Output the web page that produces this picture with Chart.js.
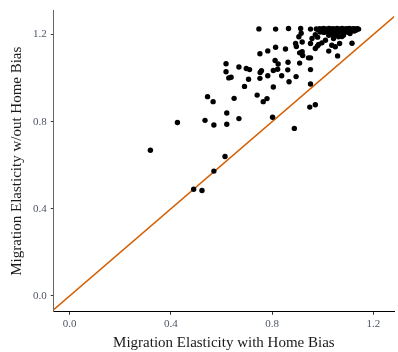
<!DOCTYPE html>
<html>
<head>
<meta charset="utf-8">
<script src="https://cdn.jsdelivr.net/npm/chart.js@4.4.0/dist/chart.umd.min.js"></script>
<style>
  html, body { margin: 0; padding: 0; background: #fff; }
  #wrap { width: 398px; height: 352px; }
</style>
</head>
<body>
<div id="wrap"><canvas id="chartOne"></canvas></div>
<script>
// scattered points: elasticity with home bias (x) vs without (y)
const withBias = [
    0.319, 0.426, 0.490, 0.523, 0.535, 0.545, 0.567, 0.570, 0.570, 0.614,
    0.621, 0.621, 0.618, 0.618, 0.629, 0.638, 0.650, 0.669, 0.669, 0.691,
    0.698, 0.711, 0.707, 0.741, 0.748, 0.752, 0.758, 0.753, 0.752, 0.765,
    0.780, 0.783, 0.783, 0.802, 0.805, 0.805, 0.814, 0.814, 0.812, 0.824,
    0.822, 0.838, 0.853, 0.865, 0.863, 0.862, 0.867, 0.888, 0.895, 0.893,
    0.896, 0.909, 0.909, 0.921, 0.906, 0.913, 0.919, 0.919, 0.944, 0.952,
    0.952, 0.952, 0.949, 0.971, 0.952, 0.958, 0.952, 0.971, 0.984, 0.997,
    1.011, 0.971, 0.980, 1.024, 1.036, 1.043, 1.024, 1.059, 1.050, 1.067,
    1.116, 1.043, 1.063, 1.082, 1.108, 1.056, 0.915, 0.979, 1.076
];
const withoutBias = [
    0.669, 0.796, 0.490, 0.484, 0.806, 0.915, 0.892, 0.785, 0.573, 0.640,
    0.840, 0.788, 1.066, 1.029, 1.001, 1.004, 0.907, 0.814, 1.051, 0.962,
    1.044, 1.039, 0.995, 0.922, 1.226, 1.112, 1.034, 1.026, 0.999, 0.892,
    0.906, 1.125, 1.011, 0.820, 0.959, 1.035, 1.225, 1.142, 1.081, 1.065,
    1.041, 1.011, 1.134, 1.228, 1.073, 1.038, 0.983, 0.769, 1.007, 1.159,
    1.145, 1.069, 1.116, 1.104, 1.190, 1.228, 1.166, 1.121, 1.093, 1.093,
    1.039, 0.973, 0.867, 0.878, 1.225, 1.182, 1.159, 1.136, 1.154, 1.162,
    1.174, 1.199, 1.188, 1.124, 1.151, 1.182, 1.197, 1.102, 1.144, 1.159,
    1.160, 1.197, 1.190, 1.197, 1.205, 1.205, 1.206, 1.147, 1.191
];
// the dense band of capped values along the top
const bandX = [
    0.975, 0.982, 0.988, 0.993, 0.998, 1.003, 1.008, 1.012, 1.017, 1.021,
    1.025, 1.029, 1.033, 1.037, 1.041, 1.045, 1.049, 1.053, 1.057, 1.061,
    1.065, 1.069, 1.073, 1.077, 1.081, 1.085, 1.089, 1.093, 1.097, 1.101,
    1.105, 1.109, 1.113, 1.117, 1.121, 1.125, 1.129, 1.133, 1.137, 1.142,
    0.990, 1.005, 1.020, 1.035, 1.050, 1.065, 1.080, 1.095, 1.110, 1.125
];
const bandY = [
    1.226, 1.222, 1.227, 1.219, 1.225, 1.228, 1.221, 1.226, 1.218, 1.224,
    1.228, 1.220, 1.226, 1.222, 1.227, 1.217, 1.225, 1.221, 1.228, 1.223,
    1.219, 1.226, 1.222, 1.228, 1.220, 1.225, 1.222, 1.227, 1.219, 1.224,
    1.228, 1.221, 1.225, 1.219, 1.227, 1.223, 1.226, 1.221, 1.227, 1.225,
    1.212, 1.210, 1.214, 1.211, 1.213, 1.212, 1.215, 1.211, 1.214, 1.216
];
const tickValues = [0.0, 0.4, 0.8, 1.2];
const lineEnds = [-0.2, 1.5];

const points = withBias.map((x, i) => ({ x: x, y: withoutBias[i] }))
    .concat(bandX.map((x, i) => ({ x: x, y: bandY[i] })));

const fontFamily = '"Liberation Serif", "Times New Roman", serif';
const tickColor = '#4f5566';

const ctx = document.getElementById('chartOne').getContext('2d');
const myChart = new Chart(ctx, {
    type: 'scatter',
    data: {
        datasets: [
            {
                data: lineEnds.map(v => ({ x: v, y: v })),
                showLine: true,
                borderColor: 'rgb(213, 94, 0)',
                borderWidth: 1.5,
                pointRadius: 0,
                order: 2
            },
            {
                data: points,
                backgroundColor: '#000',
                borderColor: '#000',
                pointRadius: 2.7,
                borderWidth: 0,
                order: 1
            }
        ]
    },
    options: {
        responsive: true,
        maintainAspectRatio: false,
        animation: false,
        layout: {
            padding: { top: 10, right: 0, left: 8, bottom: 0 }
        },
        scales: {
            x: {
                type: 'linear',
                min: -0.063,
                max: 1.282,
                afterBuildTicks: axis => { axis.ticks = tickValues.map(v => ({ value: v })); },
                grid: {
                    display: true,
                    drawOnChartArea: false,
                    drawTicks: true,
                    tickLength: 3,
                    color: '#333'
                },
                border: { display: true, color: '#000', width: 1 },
                ticks: {
                    color: tickColor,
                    padding: 3,
                    font: { family: fontFamily, size: 11 },
                    callback: v => v.toFixed(1)
                },
                title: {
                    display: true,
                    text: 'Migration Elasticity with Home Bias',
                    color: '#1a1a1a',
                    font: { family: fontFamily, size: 15 },
                    padding: { top: 0, bottom: 0 }
                }
            },
            y: {
                type: 'linear',
                min: -0.073,
                max: 1.31,
                afterBuildTicks: axis => { axis.ticks = tickValues.map(v => ({ value: v })); },
                grid: {
                    display: true,
                    drawOnChartArea: false,
                    drawTicks: true,
                    tickLength: 3,
                    color: '#333'
                },
                border: { display: true, color: '#666', width: 1 },
                ticks: {
                    color: tickColor,
                    padding: 4,
                    font: { family: fontFamily, size: 11 },
                    callback: v => v.toFixed(1)
                },
                title: {
                    display: true,
                    text: 'Migration Elasticity w/out Home Bias',
                    color: '#1a1a1a',
                    font: { family: fontFamily, size: 15 },
                    padding: { top: 0, bottom: 3 }
                }
            }
        },
        plugins: {
            legend: false,
            tooltip: { enabled: false }
        }
    }
});
</script>
</body>
</html>
